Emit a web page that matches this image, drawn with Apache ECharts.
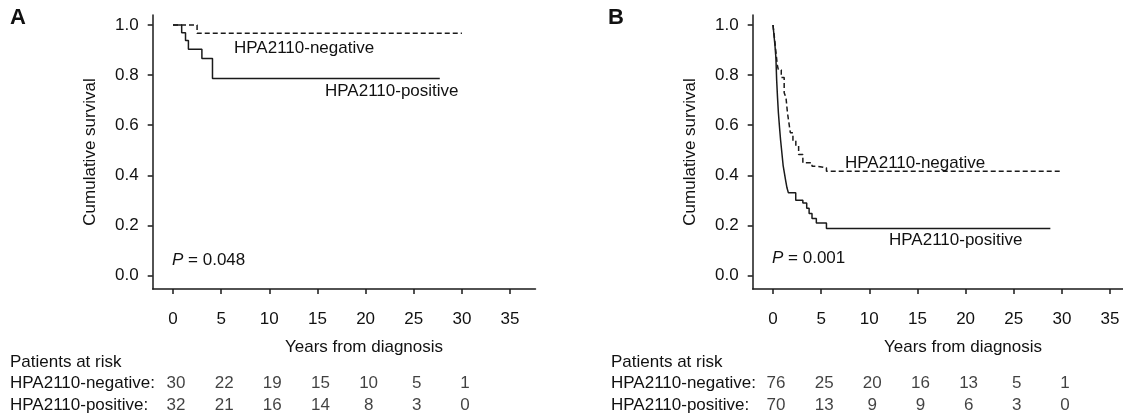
<!DOCTYPE html>
<html>
<head>
<meta charset="utf-8">
<script src="https://cdn.jsdelivr.net/npm/echarts@6/dist/echarts.min.js"></script>
<style>
html,body{margin:0;padding:0;background:#fff}
#main{width:1123px;height:415px}
</style>
</head>
<body>
<div id="main"></div>
<script>
// tick labels
var yearTicks = [0, 5, 10, 15, 20, 25, 30, 35];
var survTicks = [0, 0.2, 0.4, 0.6, 0.8, 1.0];
var riskYears = [0, 5, 10, 15, 20, 25, 30];

// panel A, Kaplan-Meier steps (years, survival)
var aNegT = [0, 2.5, 30.0];
var aNegS = [1.0, 0.967, 0.967];
var aPosT = [0, 0.9, 1.3, 1.6, 3.0, 4.1, 27.7];
var aPosS = [1.0, 0.969, 0.938, 0.903, 0.866, 0.786, 0.786];

// panel B
var bNegT = [0, 0.15, 0.3, 0.45, 0.56, 0.86, 1.16, 1.35, 1.5, 1.65, 1.8, 2.07, 2.37, 2.66, 3.1, 4.05, 4.6, 5.55, 30.0];
var bNegS = [1.0, 0.95, 0.893, 0.84, 0.82, 0.79, 0.73, 0.71, 0.65, 0.61, 0.57, 0.537, 0.517, 0.483, 0.45, 0.436, 0.43, 0.416, 0.416];
var bPosT = [0, 0.1, 0.2, 0.3, 0.38, 0.47, 0.56, 0.68, 0.79, 0.92, 1.05, 1.18, 1.31, 1.45, 1.6, 2.36, 3.1, 3.5, 3.75, 4.05, 4.5, 5.55, 28.8];
var bPosS = [1.0, 0.96, 0.92, 0.87, 0.78, 0.71, 0.65, 0.59, 0.54, 0.49, 0.44, 0.41, 0.38, 0.35, 0.33, 0.30, 0.289, 0.268, 0.248, 0.228, 0.21, 0.188, 0.188];

// patients at risk
var aRiskNeg = [30, 22, 19, 15, 10, 5, 1];
var aRiskPos = [32, 21, 16, 14, 8, 3, 0];
var bRiskNeg = [76, 25, 20, 16, 13, 5, 1];
var bRiskPos = [70, 13, 9, 9, 6, 3, 0];

var FONT = "'Liberation Sans', Arial, Helvetica, sans-serif";
var INK = '#1a1a1a';

function zip(t, s) {
    return t.map(function (v, i) { return [v, s[i]]; });
}
function riskData(vals, row) {
    return vals.map(function (v, i) { return [riskYears[i], row, v]; });
}

var xMin = -2.108, xMax = 37.64;
var plotW = 382.8;

function plotX(grid) {
    return {
        gridIndex: grid, type: 'value', min: xMin, max: xMax,
        axisLine: {show: true, onZero: false, lineStyle: {color: INK, width: 1.5}},
        axisTick: {show: true, customValues: yearTicks, length: 5, lineStyle: {color: INK, width: 1.5}},
        axisLabel: {customValues: yearTicks, margin: 22, fontSize: 17, color: '#111', fontFamily: FONT},
        splitLine: {show: false}
    };
}
function plotY(grid) {
    return {
        gridIndex: grid, type: 'value', min: -0.0539, max: 1.04,
        name: 'Cumulative survival', nameLocation: 'middle', nameGap: 54, nameRotate: 90,
        nameTextStyle: {fontSize: 17, color: '#111', fontFamily: FONT},
        axisLine: {show: true, onZero: false, lineStyle: {color: INK, width: 1.5}},
        axisTick: {show: true, customValues: survTicks, length: 5, lineStyle: {color: INK, width: 1.5}},
        axisLabel: {customValues: survTicks, margin: 14, fontSize: 17, color: '#111', fontFamily: FONT,
            formatter: function (v) { return v.toFixed(1); }},
        splitLine: {show: false}
    };
}
function hiddenX(grid) {
    return {gridIndex: grid, type: 'value', min: xMin, max: xMax, show: false};
}
function hiddenY(grid) {
    return {gridIndex: grid, type: 'value', min: 0, max: 1, show: false};
}
function curve(idx, data, dashed) {
    return {
        type: 'line', xAxisIndex: idx, yAxisIndex: idx, step: 'end',
        symbol: 'none', data: data, silent: true,
        lineStyle: {color: INK, width: 1.5, type: dashed ? [5, 3] : 'solid'}
    };
}
function riskRow(idx, data) {
    return {
        type: 'scatter', xAxisIndex: idx, yAxisIndex: idx, data: data,
        symbolSize: 1, itemStyle: {color: 'rgba(0,0,0,0)'}, silent: true,
        label: {show: true, position: 'inside', offset: [3, 0], fontSize: 17, color: '#111', fontFamily: FONT,
            formatter: function (p) { return String(p.value[2]); }}
    };
}
function txt(x, y, s, extra) {
    var st = {text: s, fill: '#111', font: '17px ' + FONT, textVerticalAlign: 'middle'};
    for (var k in extra) st[k] = extra[k];
    return {type: 'text', x: x, y: y, style: st, silent: true};
}
function pText(x, y, val) {
    return {type: 'text', x: x, y: y, silent: true,
        style: {text: '{i|P} = ' + val, font: '17px ' + FONT, fill: '#111', textVerticalAlign: 'middle',
            rich: {i: {fontStyle: 'italic', fontSize: 17, fontFamily: FONT, fill: '#111'}}}};
}

var chart = echarts.init(document.getElementById('main'), null, {renderer: 'canvas'});

var graphics = [];
[0, 600].forEach(function (dx, p) {
    graphics.push(txt(10 + dx - (p ? 2 : 0), 18, p ? 'B' : 'A', {font: 'bold 22px ' + FONT}));
    graphics.push(txt(364 + dx - (p ? 1 : 0), 347, 'Years from diagnosis', {textAlign: 'center'}));
    graphics.push(txt(10 + dx + (p ? 1 : 0), 362, 'Patients at risk'));
    graphics.push(txt(10 + dx + (p ? 1 : 0), 383, 'HPA2110-negative:'));
    graphics.push(txt(10 + dx + (p ? 1 : 0), 405, 'HPA2110-positive:'));
});
graphics.push(txt(234, 48.5, 'HPA2110-negative'));
graphics.push(txt(325, 91.6, 'HPA2110-positive'));
graphics.push(txt(845, 163, 'HPA2110-negative'));
graphics.push(txt(889, 240, 'HPA2110-positive'));
graphics.push(pText(172, 260, '0.048'));
graphics.push(pText(772, 258, '0.001'));

var option = {
    animation: false,
    backgroundColor: '#fff',
    textStyle: {fontFamily: FONT},
    grid: [
        {left: 152.7, top: 15, width: plotW, height: 274, outerBoundsMode: 'none', containLabel: false},
        {left: 752.7, top: 15, width: plotW, height: 274, outerBoundsMode: 'none', containLabel: false},
        {left: 152.7, top: 383, width: plotW, height: 22, outerBoundsMode: 'none', containLabel: false},
        {left: 752.7, top: 383, width: plotW, height: 22, outerBoundsMode: 'none', containLabel: false}
    ],
    xAxis: [plotX(0), plotX(1), hiddenX(2), hiddenX(3)],
    yAxis: [plotY(0), plotY(1), hiddenY(2), hiddenY(3)],
    series: [
        curve(0, zip(aNegT, aNegS), true),
        curve(0, zip(aPosT, aPosS), false),
        curve(1, zip(bNegT, bNegS), true),
        curve(1, zip(bPosT, bPosS), false),
        riskRow(2, riskData(aRiskNeg, 1)),
        riskRow(2, riskData(aRiskPos, 0)),
        riskRow(3, riskData(bRiskNeg, 1)),
        riskRow(3, riskData(bRiskPos, 0))
    ],
    graphic: graphics
};
chart.setOption(option);
</script>
</body>
</html>
